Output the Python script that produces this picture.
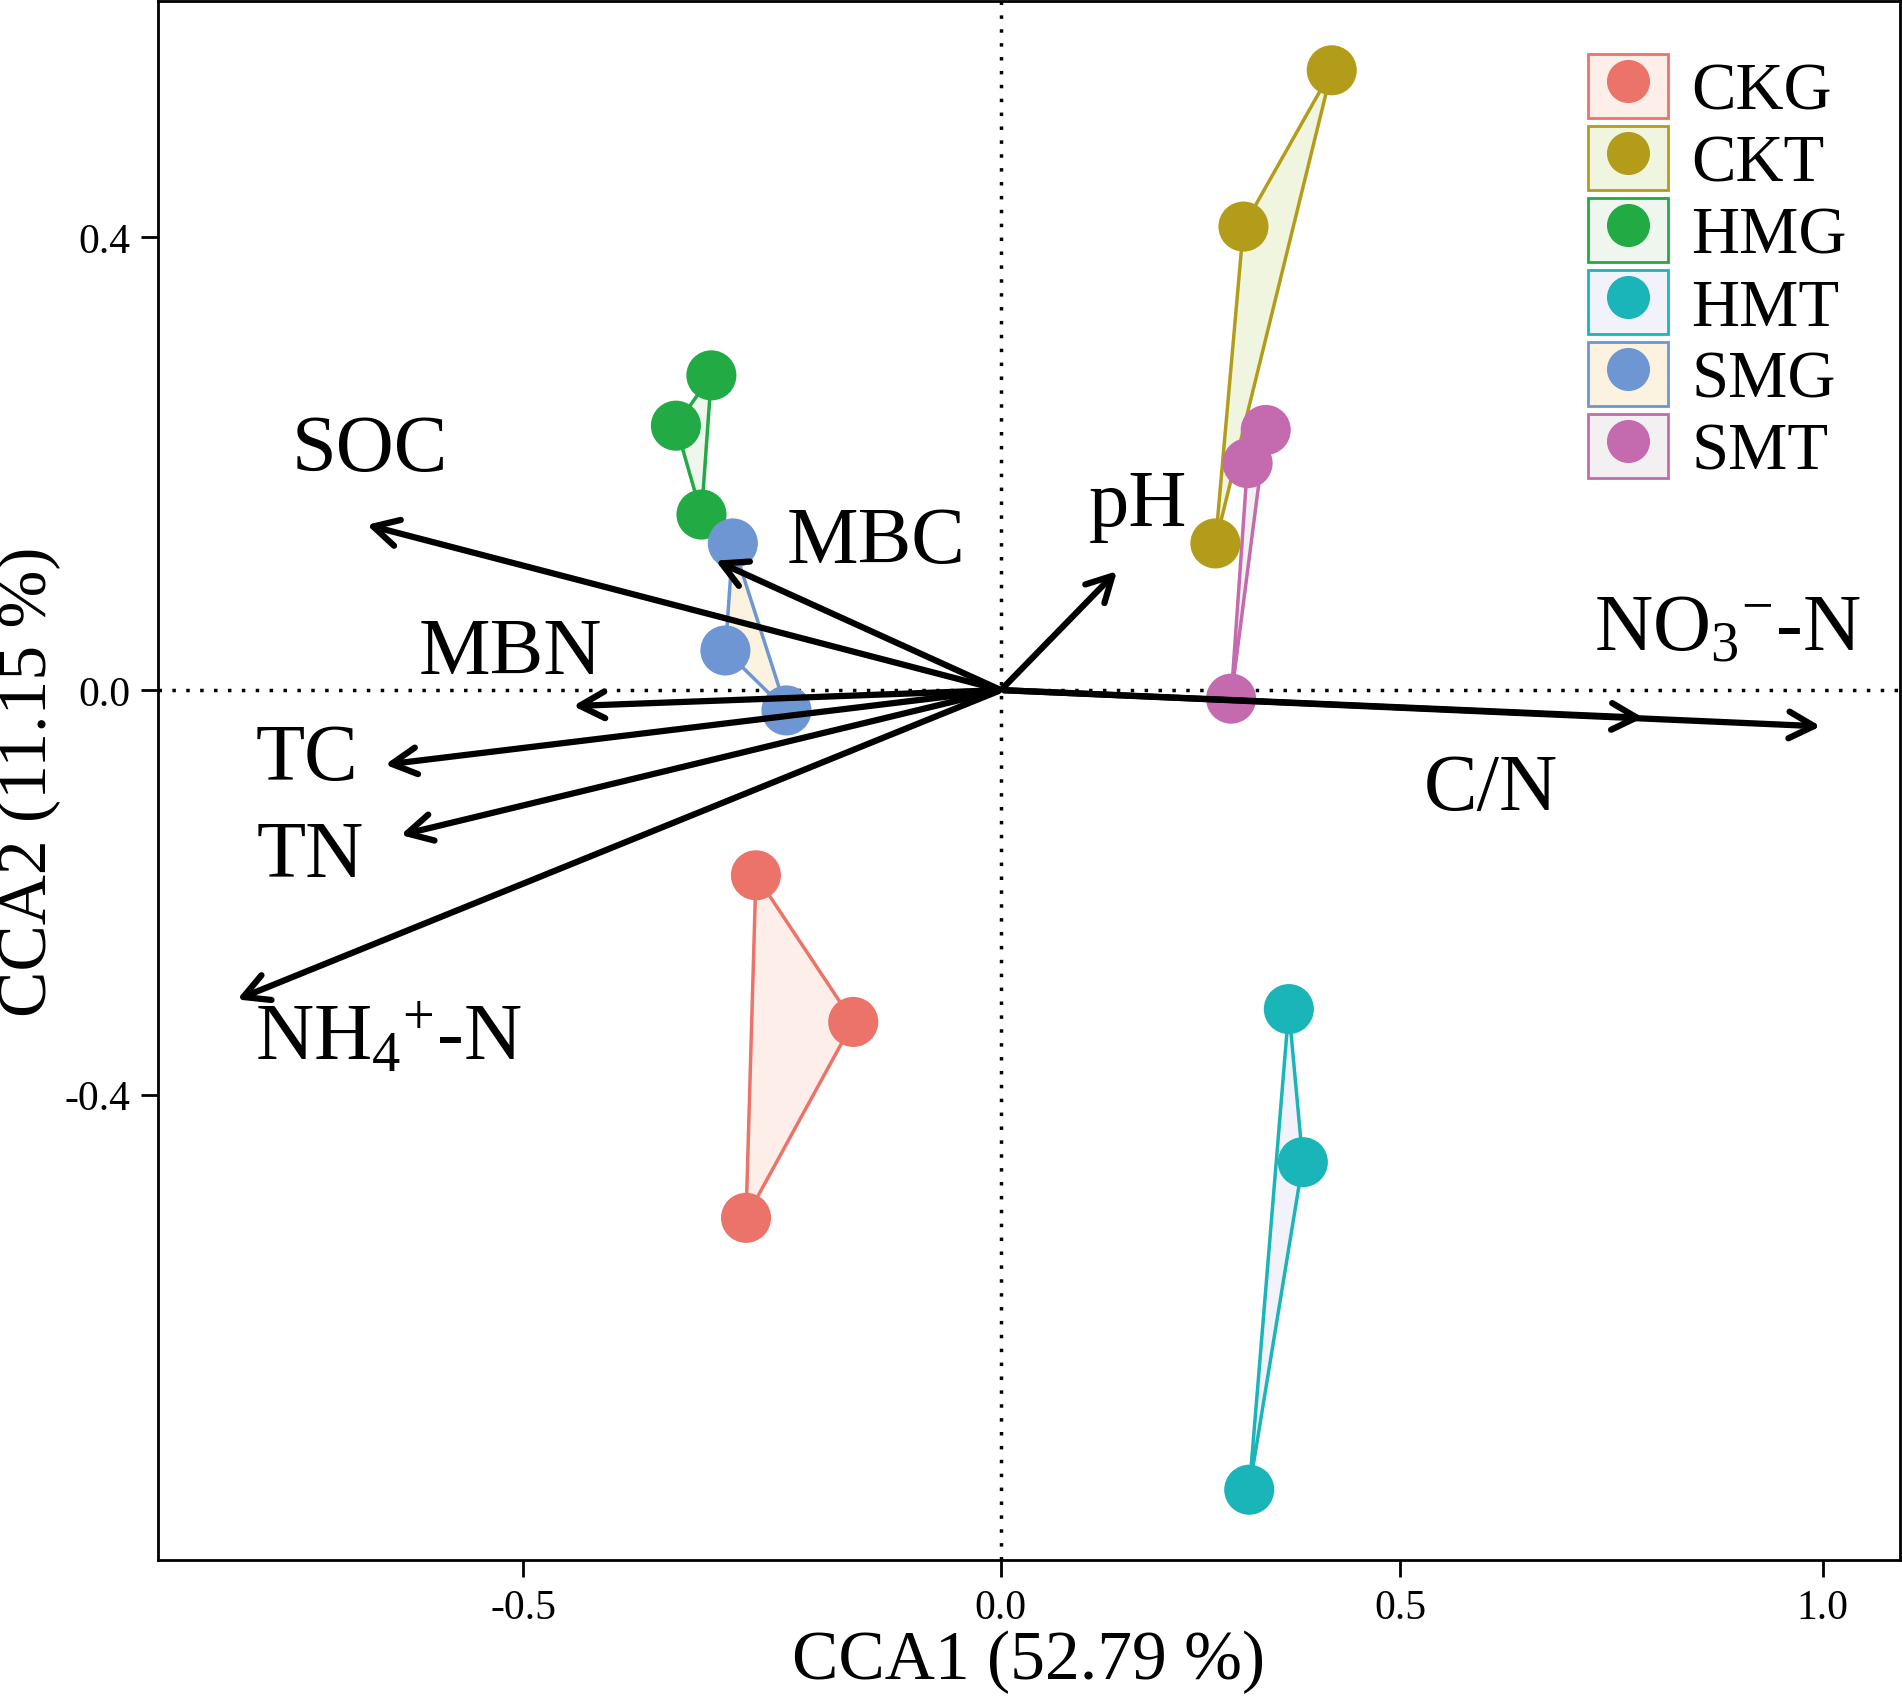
import numpy as np, pandas as pd, matplotlib
matplotlib.use("Agg")
import matplotlib.pyplot as plt, seaborn as sns
from matplotlib.patches import Patch
from matplotlib.lines import Line2D

groups = ["CKG","CKT","HMG","HMT","SMG","SMT"]
cca1 = {"CKG":[-0.297,-0.179,-0.309],"CKT":[0.401,0.294,0.260],"HMG":[-0.351,-0.394,-0.363],
        "HMT":[0.349,0.366,0.301],"SMG":[-0.325,-0.334,-0.260],"SMT":[0.321,0.299,0.279]}
cca2 = {"CKG":[-0.173,-0.310,-0.493],"CKT":[0.579,0.433,0.137],"HMG":[0.294,0.247,0.164],
        "HMT":[-0.298,-0.441,-0.747],"SMG":[0.137,0.037,-0.019],"SMT":[0.243,0.212,-0.008]}
colors = ["#EB7369","#B39C1A","#22AA44","#1AB5B8","#6E96D2","#C46AAE"]
fills = ["#FDEEEA","#F0F5E0","#EEF6EE","#F2F2FA","#FBF3DF","#F2F0F0"]
env = ["SOC","MBC","pH","MBN","TC","TN","NH4","NO3","CN"]
env_x = [-0.772,-0.349,0.143,-0.522,-0.750,-0.731,-0.929,0.997,0.782]
env_y = [0.155,0.122,0.113,-0.015,-0.070,-0.136,-0.290,-0.034,-0.026]
env_lab = ["SOC","MBC","pH","MBN","TC","TN",r"NH$_4$$^{+}$-N",r"NO$_3$$^{-}$-N","C/N"]
lab_x = [-0.765,-0.151,0.166,-0.595,-0.841,-0.837,-0.743,0.880,0.594]
lab_y = [0.224,0.138,0.172,0.034,-0.065,-0.155,-0.326,0.056,-0.093]

rows = [(g,x,y) for g in groups for x,y in zip(cca1[g],cca2[g])]
df = pd.DataFrame(rows, columns=["group","CCA1","CCA2"])

sns.set_theme(style="white")
plt.rcParams['font.family'] = ['Liberation Serif','DejaVu Serif']
plt.rcParams['mathtext.fontset'] = 'custom'
plt.rcParams['mathtext.rm'] = 'Liberation Serif'
plt.rcParams['mathtext.it'] = 'Liberation Serif'
plt.rcParams['text.color'] = 'black'
plt.rcParams['axes.labelcolor'] = 'black'
plt.rcParams['xtick.color'] = 'black'
plt.rcParams['ytick.color'] = 'black'
fig = plt.figure(figsize=(19.02,16.99), dpi=100)
ax = fig.add_axes([0.083,0.081,0.916,0.918])
for g,c,f in zip(groups,colors,fills):
    xs = cca1[g]+[cca1[g][0]]; ys = cca2[g]+[cca2[g][0]]
    ax.fill(xs, ys, color=f, zorder=1)
    ax.plot(xs, ys, color=c, lw=2.5, zorder=2)
sns.scatterplot(data=df, x="CCA1", y="CCA2", hue="group", palette=colors, s=1300,
                edgecolor="none", legend=False, ax=ax, zorder=3)
ax.axhline(0, color="black", ls=(0,(1,3)), lw=2.5, zorder=0)
ax.axvline(0, color="black", ls=(0,(1,3)), lw=2.5, zorder=0)
for x,y,l,tx,ty in zip(env_x,env_y,env_lab,lab_x,lab_y):
    ax.annotate("", xy=(x,y), xytext=(0,0),
                arrowprops=dict(arrowstyle="->,head_length=1.5,head_width=0.8", lw=4.5, color="black"), zorder=4)
    ax.text(tx,ty,l,fontsize=58,ha="center",va="center",zorder=5)
ax.set_xlim(-1.022,1.090); ax.set_ylim(-0.813,0.644)
ax.set_xticks([-0.579,0,0.484,0.996]); ax.set_xticklabels(["-0.5","0.0","0.5","1.0"])
ax.set_yticks([-0.378,0,0.423]); ax.set_yticklabels(["-0.4","0.0","0.4"])
ax.tick_params(labelsize=30, length=12, width=2, direction="out", bottom=True, left=True, pad=8)
ax.set_xlabel("CCA1 (52.79 %)", fontsize=50, labelpad=2)
ax.set_ylabel("CCA2 (11.15 %)", fontsize=50, labelpad=2)
for s in ax.spines.values():
    s.set_linewidth(2); s.set_color("black")
handles = [(Patch(facecolor=f, edgecolor=c, lw=2), Line2D([],[],marker="o",ls="",color=c,markersize=30))
           for c,f in zip(colors,fills)]
ax.legend(handles, groups, loc="upper right", fontsize=48, frameon=False, handlelength=1.2,
          handleheight=1.1, labelspacing=0.05, handletextpad=0.35, borderaxespad=0.4)
fig.savefig("out.png", dpi=100)
